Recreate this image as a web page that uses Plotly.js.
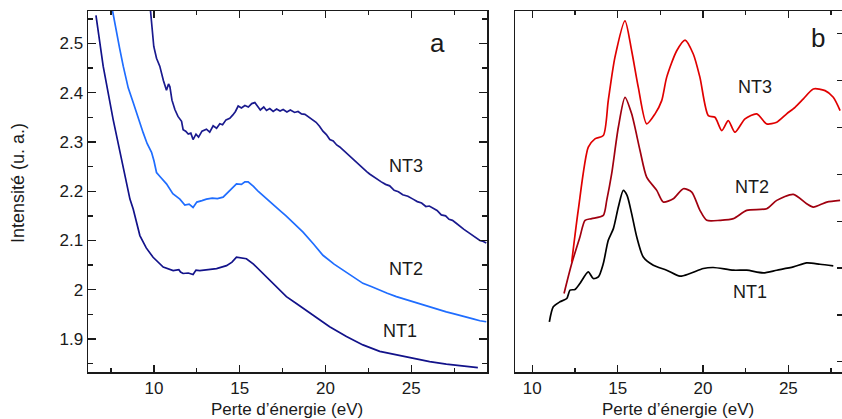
<!DOCTYPE html>
<html>
<head>
<meta charset="utf-8">
<script src="https://cdn.plot.ly/plotly-3.0.1.min.js"></script>
<style>
html,body{margin:0;padding:0;overflow:hidden;width:842px;height:419px;background:#fff;}
#chart{width:846px;height:419px;}
</style>
</head>
<body>
<div id="chart"></div>
<script>
// Panel a : intensity vs energy loss
const a_nt1_x = [6.62,7.04,7.62,8.21,8.60,8.79,9.18,9.55,9.95,10.54,11.12,11.45,11.55,11.70,12.0,12.28,12.45,12.67,13.2,13.65,14.23,14.55,14.81,15.05,15.39,15.8,16.17,16.94,17.72,18.30,19.27,20.24,21.22,22.18,23.16,24.13,25.10,26.07,27.04,28.01,28.88];
const a_nt1_y = [2.557,2.454,2.346,2.252,2.184,2.164,2.110,2.085,2.066,2.046,2.039,2.041,2.036,2.033,2.034,2.031,2.040,2.039,2.041,2.043,2.049,2.056,2.066,2.065,2.063,2.052,2.039,2.013,1.986,1.972,1.948,1.925,1.905,1.888,1.875,1.868,1.861,1.854,1.849,1.845,1.842];

const a_nt2_x = [7.59,7.82,8.0,8.21,8.5,8.79,9.1,9.37,9.6,9.86,10.0,10.15,10.4,10.73,11.1,11.51,11.8,12.05,12.28,12.5,12.8,13.06,13.4,13.7,14.03,14.4,14.81,15.1,15.3,15.49,15.8,16.1,16.56,17.0,17.33,17.7,18.1,18.69,19.3,19.85,20.5,21.22,21.7,22.18,22.7,23.16,23.6,24.13,24.6,25.10,25.6,26.07,26.5,27.04,27.5,28.01,28.6,29.0,29.37];
const a_nt2_y = [2.566,2.521,2.49,2.454,2.41,2.380,2.345,2.319,2.297,2.279,2.262,2.238,2.228,2.215,2.195,2.184,2.172,2.174,2.167,2.178,2.181,2.184,2.186,2.185,2.188,2.200,2.215,2.214,2.219,2.219,2.21,2.199,2.184,2.170,2.161,2.150,2.136,2.117,2.093,2.070,2.052,2.036,2.024,2.013,2.006,1.999,1.993,1.986,1.981,1.976,1.970,1.965,1.960,1.955,1.951,1.947,1.941,1.937,1.935];

const a_nt3_x = [9.80,9.99,10.15,10.34,10.55,10.73,10.85,10.93,11.05,11.22,11.40,11.61,11.70,11.85,12.0,12.15,12.28,12.45,12.6,12.8,13.06,13.25,13.45,13.65,13.84,14.0,14.2,14.42,14.6,14.75,14.91,15.1,15.3,15.5,15.7,15.88,16.05,16.2,16.4,16.56,16.75,16.95,17.15,17.35,17.53,17.75,17.95,18.2,18.40,18.6,18.8,19.05,19.27,19.45,19.65,19.85,20.05,20.25,20.45,20.65,20.83,21.05,21.25,21.45,21.60,21.8,22.0,22.2,22.4,22.57,22.8,23.0,23.25,23.5,23.74,24.0,24.25,24.5,24.8,25.10,25.35,25.6,25.85,26.05,26.26,26.5,26.75,27.0,27.2,27.4,27.62,27.85,28.05,28.3,28.59,28.8,29.0,29.2,29.37];
const a_nt3_y = [2.566,2.494,2.47,2.454,2.425,2.405,2.418,2.412,2.385,2.366,2.352,2.342,2.325,2.322,2.316,2.318,2.305,2.316,2.31,2.322,2.326,2.32,2.333,2.328,2.337,2.335,2.345,2.348,2.355,2.362,2.373,2.369,2.374,2.371,2.378,2.380,2.372,2.365,2.371,2.364,2.368,2.362,2.367,2.363,2.366,2.361,2.365,2.360,2.362,2.357,2.356,2.35,2.345,2.34,2.332,2.322,2.315,2.305,2.302,2.294,2.29,2.283,2.275,2.27,2.265,2.258,2.251,2.246,2.24,2.235,2.229,2.224,2.219,2.214,2.211,2.202,2.199,2.193,2.190,2.184,2.179,2.176,2.169,2.17,2.165,2.161,2.152,2.150,2.143,2.141,2.135,2.128,2.123,2.117,2.110,2.106,2.100,2.098,2.095];

// Panel b : arbitrary units
const b_nt1_x = [11.00,11.23,11.62,12.02,12.21,12.50,12.79,13.28,13.57,13.87,14.16,14.45,14.75,15.04,15.33,15.55,15.82,16.12,16.50,17.09,17.87,18.65,19.24,20.02,20.60,21.78,22.56,23.53,24.32,25.29,26.07,26.85,27.63];
const b_nt1_y = [0.852,1.171,1.278,1.350,1.527,1.542,1.670,1.917,1.776,1.810,2.096,2.592,2.841,3.301,3.657,3.55,3.161,2.662,2.236,2.060,1.953,1.825,1.883,1.989,2.011,1.953,1.953,1.896,1.953,2.023,2.109,2.081,2.045];

const b_nt2_x = [11.86,12.31,12.79,13.09,13.48,14.16,14.36,14.65,15.04,15.43,15.82,16.31,16.70,17.29,17.67,18.26,18.85,19.34,19.82,20.22,20.99,21.78,22.56,23.73,24.32,25.29,26.07,26.46,27.25,28.03];
const b_nt2_y = [1.457,2.096,2.662,3.018,3.054,3.125,3.444,4.013,5.005,5.644,5.291,4.509,3.940,3.657,3.408,3.480,3.693,3.621,3.231,3.018,3.018,3.054,3.231,3.267,3.444,3.572,3.374,3.301,3.408,3.444];

const b_nt3_x = [12.31,12.69,13.28,13.67,14.16,14.45,14.84,15.43,15.82,16.21,16.70,17.19,17.58,17.87,18.46,18.95,19.43,19.82,20.31,20.70,21.10,21.48,21.87,22.46,23.15,23.73,24.32,24.90,25.39,25.88,26.46,27.15,27.63,28.03];
const b_nt3_y = [2.130,3.231,4.579,4.758,4.829,5.574,6.496,7.278,6.639,5.857,5.078,5.291,5.574,6.070,6.639,6.867,6.569,6.070,5.254,5.218,4.935,5.148,4.899,5.184,5.291,5.078,5.112,5.291,5.431,5.610,5.823,5.787,5.644,5.361];

const seriesNames = ['NT1','NT2','NT3'];
const xTitle = 'Perte d’énergie (eV)';
const yTitle = 'Intensité (u. a.)';

const FONT = 'Liberation Sans, Arial, Helvetica, sans-serif';
const INK = '#1a1a1a';

function tr(x, y, color, xa, ya, name, shape) {
  return {x: x, y: y, type: 'scatter', mode: 'lines', name: name,
          line: {color: color, width: 1.7, shape: shape || 'linear', smoothing: 0.7},
          xaxis: xa, yaxis: ya, hoverinfo: 'skip'};
}

const data = [
  tr(a_nt1_x, a_nt1_y, '#12128a', 'x', 'y', seriesNames[0]),
  tr(a_nt2_x, a_nt2_y, '#1f6dff', 'x', 'y', seriesNames[1]),
  tr(a_nt3_x, a_nt3_y, '#1a1a8e', 'x', 'y', seriesNames[2]),
  tr(b_nt1_x, b_nt1_y, '#000000', 'x2', 'y2', seriesNames[0], 'spline'),
  tr(b_nt2_x, b_nt2_y, '#a0000f', 'x2', 'y2', seriesNames[1], 'spline'),
  tr(b_nt3_x, b_nt3_y, '#e00000', 'x2', 'y2', seriesNames[2], 'spline')
];

const W = 755;
const axCommon = {
  showline: true, linecolor: INK, linewidth: 1.5, ticks: 'inside', tickcolor: INK,
  tickwidth: 1.3, showgrid: false, zeroline: false,
  tickfont: {family: FONT, size: 17, color: INK}
};

const ann = (x, y, text, xref, yref, size, extra) => Object.assign({
  x: x, y: y, xref: xref, yref: yref, text: text, showarrow: false,
  xanchor: 'center', yanchor: 'middle',
  font: {family: FONT, size: size, color: INK}
}, extra || {});

const layout = {
  width: 846, height: 419,
  margin: {l: 88, r: 3, t: 11, b: 47},
  paper_bgcolor: '#fff', plot_bgcolor: '#fff',
  showlegend: false,
  xaxis: Object.assign({}, axCommon, {
    domain: [0, (487.3 - 88) / W], range: [6.156, 29.43], anchor: 'y',
    dtick: 5, tick0: 0, ticklen: 7, mirror: 'ticks',
    minor: {dtick: 2.5, tick0: 0, ticklen: 4, ticks: 'inside', tickcolor: INK, tickwidth: 1.3}
  }),
  yaxis: Object.assign({}, axCommon, {
    domain: [0, 1], range: [1.833, 2.566], anchor: 'x',
    tickvals: [1.9, 2.0, 2.1, 2.2, 2.3, 2.4, 2.5], ticktext: ['1.9','2','2.1','2.2','2.3','2.4','2.5'],
    ticklen: 8, mirror: 'ticks',
    minor: {dtick: 0.05, tick0: 0, ticklen: 5, ticks: 'inside', tickcolor: INK, tickwidth: 1.3}
  }),
  xaxis2: Object.assign({}, axCommon, {
    domain: [(515 - 88) / W, 1], range: [8.987, 28.2], anchor: 'y2',
    dtick: 5, tick0: 0, ticklen: 7, mirror: 'ticks',
    minor: {dtick: 2.5, tick0: 0, ticklen: 4, ticks: 'inside', tickcolor: INK, tickwidth: 1.3}
  }),
  yaxis2: Object.assign({}, axCommon, {
    domain: [0, 1], range: [-0.22, 7.487], anchor: 'x2', side: 'right',
    dtick: 1, tick0: 0, ticklen: 6, mirror: true, showticklabels: false
  }),
  annotations: [
    ann(26.53, 2.501, 'a', 'x', 'y', 26),
    ann(24.67, 2.251, seriesNames[2], 'x', 'y', 18),
    ann(24.67, 2.043, seriesNames[1], 'x', 'y', 18),
    ann(24.32, 1.916, seriesNames[0], 'x', 'y', 18),
    ann(26.74, 6.91, 'b', 'x2', 'y2', 26),
    ann(23.05, 5.86, seriesNames[2], 'x2', 'y2', 18),
    ann(22.87, 3.73, seriesNames[1], 'x2', 'y2', 18),
    ann(22.75, 1.48, seriesNames[0], 'x2', 'y2', 18),
    ann((287 - 88) / W, -(410 - 372) / 361, xTitle, 'paper', 'paper', 17),
    ann((678 - 88) / W, -(410 - 372) / 361, xTitle, 'paper', 'paper', 17),
    ann((18 - 88) / W, (372 - 183) / 361, yTitle, 'paper', 'paper', 18, {textangle: -90})
  ]
};

Plotly.newPlot('chart', data, layout, {staticPlot: true, displayModeBar: false});
</script>
</body>
</html>
